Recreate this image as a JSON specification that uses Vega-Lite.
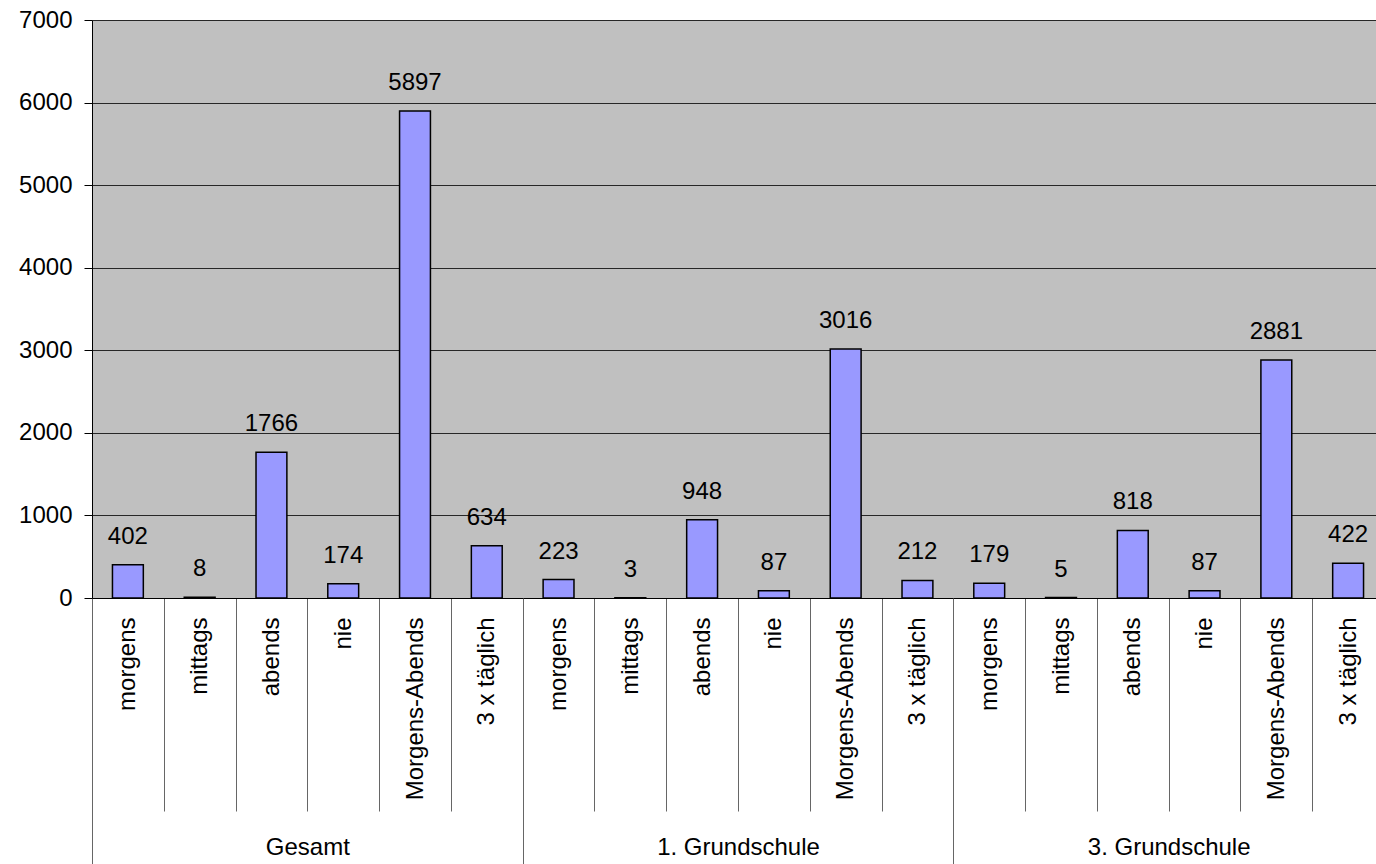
{
  "$schema": "https://vega.github.io/schema/vega-lite/v6.json",
  "width": 1284,
  "height": 578,
  "autosize": {"type": "none"},
  "padding": {"left": 92, "top": 20, "right": 0, "bottom": 266},
  "background": "white",
  "config": {
    "view": {"fill": "#C0C0C0", "stroke": null},
    "font": "Liberation Sans"
  },
  "data": {
    "values": [
      {"key": "Gesamt|morgens", "group": "Gesamt", "value": 402},
      {"key": "Gesamt|mittags", "group": "Gesamt", "value": 8},
      {"key": "Gesamt|abends", "group": "Gesamt", "value": 1766},
      {"key": "Gesamt|nie", "group": "Gesamt", "value": 174},
      {"key": "Gesamt|Morgens-Abends", "group": "Gesamt", "value": 5897},
      {"key": "Gesamt|3 x täglich", "group": "Gesamt", "value": 634},
      {"key": "1. Grundschule|morgens", "group": "1. Grundschule", "value": 223},
      {"key": "1. Grundschule|mittags", "group": "1. Grundschule", "value": 3},
      {"key": "1. Grundschule|abends", "group": "1. Grundschule", "value": 948},
      {"key": "1. Grundschule|nie", "group": "1. Grundschule", "value": 87},
      {"key": "1. Grundschule|Morgens-Abends", "group": "1. Grundschule", "value": 3016},
      {"key": "1. Grundschule|3 x täglich", "group": "1. Grundschule", "value": 212},
      {"key": "3. Grundschule|morgens", "group": "3. Grundschule", "value": 179},
      {"key": "3. Grundschule|mittags", "group": "3. Grundschule", "value": 5},
      {"key": "3. Grundschule|abends", "group": "3. Grundschule", "value": 818},
      {"key": "3. Grundschule|nie", "group": "3. Grundschule", "value": 87},
      {"key": "3. Grundschule|Morgens-Abends", "group": "3. Grundschule", "value": 2881},
      {"key": "3. Grundschule|3 x täglich", "group": "3. Grundschule", "value": 422}
    ]
  },
  "layer": [
    {
      "layer": [
        {
          "mark": {"type": "bar", "width": {"band": 0.43}, "fill": "#9999FF", "stroke": "black", "strokeWidth": 1.5},
          "encoding": {
            "x": {
              "field": "key", "type": "ordinal", "sort": null,
              "scale": {"range": [0, 1292], "paddingInner": 0, "paddingOuter": 0},
              "axis": {
                "title": null,
                "labelExpr": "split(datum.label, '|')[1]",
                "labelAngle": -90,
                "labelFontSize": 24,
                "labelColor": "black",
                "labelPadding": -194,
                "labelLimit": 500,
                "labelOverlap": false,
                "tickBand": "extent",
                "tickSize": 213,
                "tickColor": "#666666",
                "tickWidth": 1,
                "domainColor": "black",
                "domainWidth": 1
              }
            },
            "y": {
              "field": "value", "type": "quantitative",
              "scale": {"domain": [0, 7000], "nice": false},
              "axis": {
                "title": null,
                "values": [0, 1000, 2000, 3000, 4000, 5000, 6000, 7000],
                "format": "d",
                "labelFontSize": 24,
                "labelColor": "black",
                "labelPadding": 12,
                "tickSize": 8,
                "tickColor": "black",
                "domainColor": "black",
                "gridColor": "black",
                "gridOpacity": 0.8,
                "gridWidth": 1
              }
            }
          }
        },
        {
          "mark": {"type": "text", "baseline": "alphabetic", "dy": -21, "fontSize": 24, "color": "black"},
          "encoding": {
            "x": {"field": "key", "type": "ordinal", "sort": null},
            "y": {"field": "value", "type": "quantitative"},
            "text": {"field": "value", "type": "quantitative", "format": "d"}
          }
        }
      ]
    },
    {
      "mark": {"type": "tick", "opacity": 0},
      "encoding": {
        "x": {
          "field": "group", "type": "ordinal",
          "sort": ["Gesamt", "1. Grundschule", "3. Grundschule"],
          "scale": {"range": [0, 1292], "paddingInner": 0, "paddingOuter": 0},
          "axis": {
            "orient": "bottom",
            "title": null,
            "labelAngle": 0,
            "labelFontSize": 24,
            "labelColor": "black",
            "labelPadding": -10,
            "labelBaseline": "alphabetic",
            "labelAlign": "center",
            "labelLimit": 500,
            "tickBand": "extent",
            "tickSize": 266,
            "tickColor": "#666666",
            "domain": false
          }
        }
      }
    }
  ],
  "resolve": {"scale": {"x": "independent"}, "axis": {"x": "independent"}}
}
